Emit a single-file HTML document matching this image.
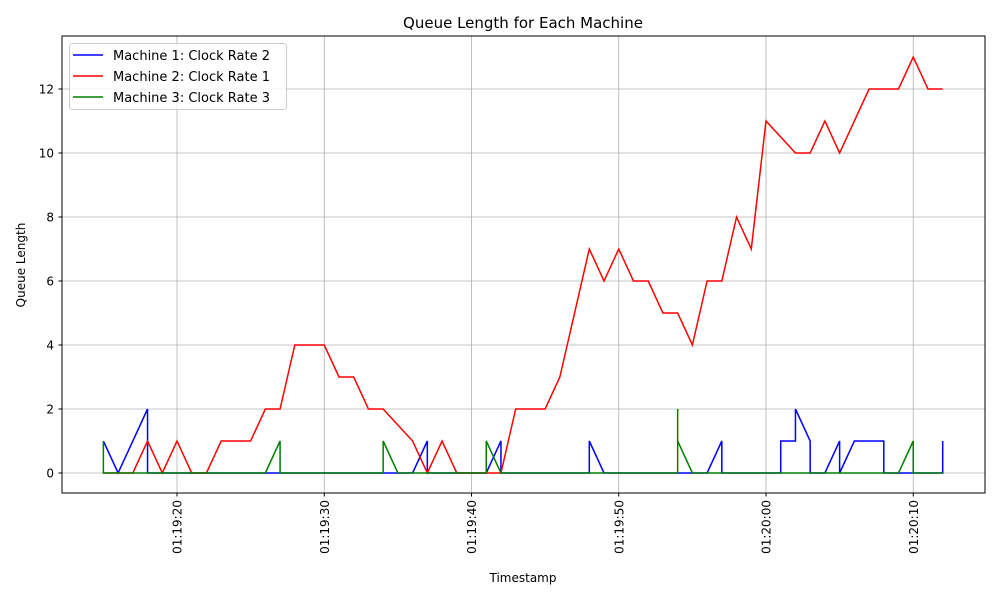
<!DOCTYPE html>
<html><head><meta charset="utf-8"><style>
body{margin:0;background:#fff;font-family:"DejaVu Sans","Liberation Sans",sans-serif;}
svg text{font-family:"DejaVu Sans","Liberation Sans",sans-serif;fill:#000;}
</style></head><body>
<svg id="chart" width="1000" height="600" xmlns="http://www.w3.org/2000/svg">
<text x="523" y="28" font-size="15" text-anchor="middle">Queue Length for Each Machine</text>
<text x="523" y="582" font-size="12" text-anchor="middle">Timestamp</text>
<text x="25" y="265" font-size="12" text-anchor="middle" transform="rotate(-90 25 265)">Queue Length</text>
<g id="grid"></g><g id="series"></g><g id="ticks"></g>
<rect x="62" y="36" width="923" height="457" fill="none" stroke="#000" stroke-width="1"/>
<g>
<rect x="69.5" y="43.5" width="217" height="66" rx="3" fill="#fff" fill-opacity="0.8" stroke="#ccc"/>
<g><line x1="73" y1="55" x2="103" y2="55" stroke="#0000ff" stroke-width="1.5"/><text x="113" y="60" font-size="13">Machine 1: Clock Rate 2</text></g>
<g><line x1="73" y1="76" x2="103" y2="76" stroke="#ff0000" stroke-width="1.5"/><text x="113" y="81" font-size="13">Machine 2: Clock Rate 1</text></g>
<g><line x1="73" y1="97" x2="103" y2="97" stroke="#008000" stroke-width="1.5"/><text x="113" y="102" font-size="13">Machine 3: Clock Rate 3</text></g>
</g>
</svg>
<script>
// seconds after 01:19:00
const m1T=[15,16,18,18,36,37,37,41,42,42,48,48,49,56,57,57,61,61,62,62,63,63,64,65,65,66,68,68,72,72];
const m1V=[1,0,2,0,0,1,0,0,1,0,0,1,0,0,1,0,0,1,1,2,1,0,0,1,0,1,1,0,0,1];
const m2T=[15,17,18,19,20,21,22,23,25,26,27,28,30,31,32,33,34,36,37,38,39,42,43,45,46,48,49,50,51,52,53,54,55,56,57,58,59,60,62,63,64,65,67,69,70,71,72];
const m2V=[0,0,1,0,1,0,0,1,1,2,2,4,4,3,3,2,2,1,0,1,0,0,2,2,3,7,6,7,6,6,5,5,4,6,6,8,7,11,10,10,11,10,12,12,13,12,12];
const m3T=[15,15,15,26,27,27,34,34,35,41,41,42,54,54,54,55,69,70,70,72];
const m3V=[0,1,0,0,1,0,0,1,0,0,1,0,0,2,1,0,0,1,0,0];
const yTicks=[0,2,4,6,8,10,12];
const xTickSec=[20,30,40,50,60,70];
const xTickLabels=["01:19:20","01:19:30","01:19:40","01:19:50","01:20:00","01:20:10"];

const NS="http://www.w3.org/2000/svg";
const X=t=>177+(t-20)*14.725;
const Y=v=>473-v*32;
function mk(tag,attrs,parent){const e=document.createElementNS(NS,tag);for(const k in attrs)e.setAttribute(k,attrs[k]);parent.appendChild(e);return e;}
const grid=document.getElementById('grid'),ticks=document.getElementById('ticks'),series=document.getElementById('series');
yTicks.forEach(v=>{
  const g=mk('line',{x1:62,x2:985,y1:Y(v),y2:Y(v),stroke:'#b0b0b0','stroke-width':0.8},grid);
  
  
  mk('line',{x1:58.5,x2:62,y1:Y(v),y2:Y(v),stroke:'#000'},ticks);
  const t=mk('text',{x:54,y:Y(v)+4.5,'font-size':12,'text-anchor':'end'},ticks);
  t.textContent=v;
  
  
});
xTickSec.forEach((s,i)=>{
  const x=X(s);
  const g=mk('line',{x1:x,x2:x,y1:36,y2:493,stroke:'#b0b0b0','stroke-width':0.8},grid);
  
  
  mk('line',{x1:x,x2:x,y1:493,y2:496.5,stroke:'#000'},ticks);
  const t=mk('text',{x:x+4.5,y:500,'font-size':12,'text-anchor':'end',transform:`rotate(-90 ${x+4.5} 500)`},ticks);
  t.textContent=xTickLabels[i];
  
  
});
function drawLine(T,V,color,name){
  const p=mk('polyline',{points:T.map((t,i)=>X(t)+','+Y(V[i])).join(' '),fill:'none',stroke:color,'stroke-width':1.5,'stroke-linejoin':'miter'},series);
  
  
}
drawLine(m1T,m1V,'#0000ff','machine-1-line');
drawLine(m2T,m2V,'#ff0000','machine-2-line');
drawLine(m3T,m3V,'#008000','machine-3-line');
</script>
</body></html>
